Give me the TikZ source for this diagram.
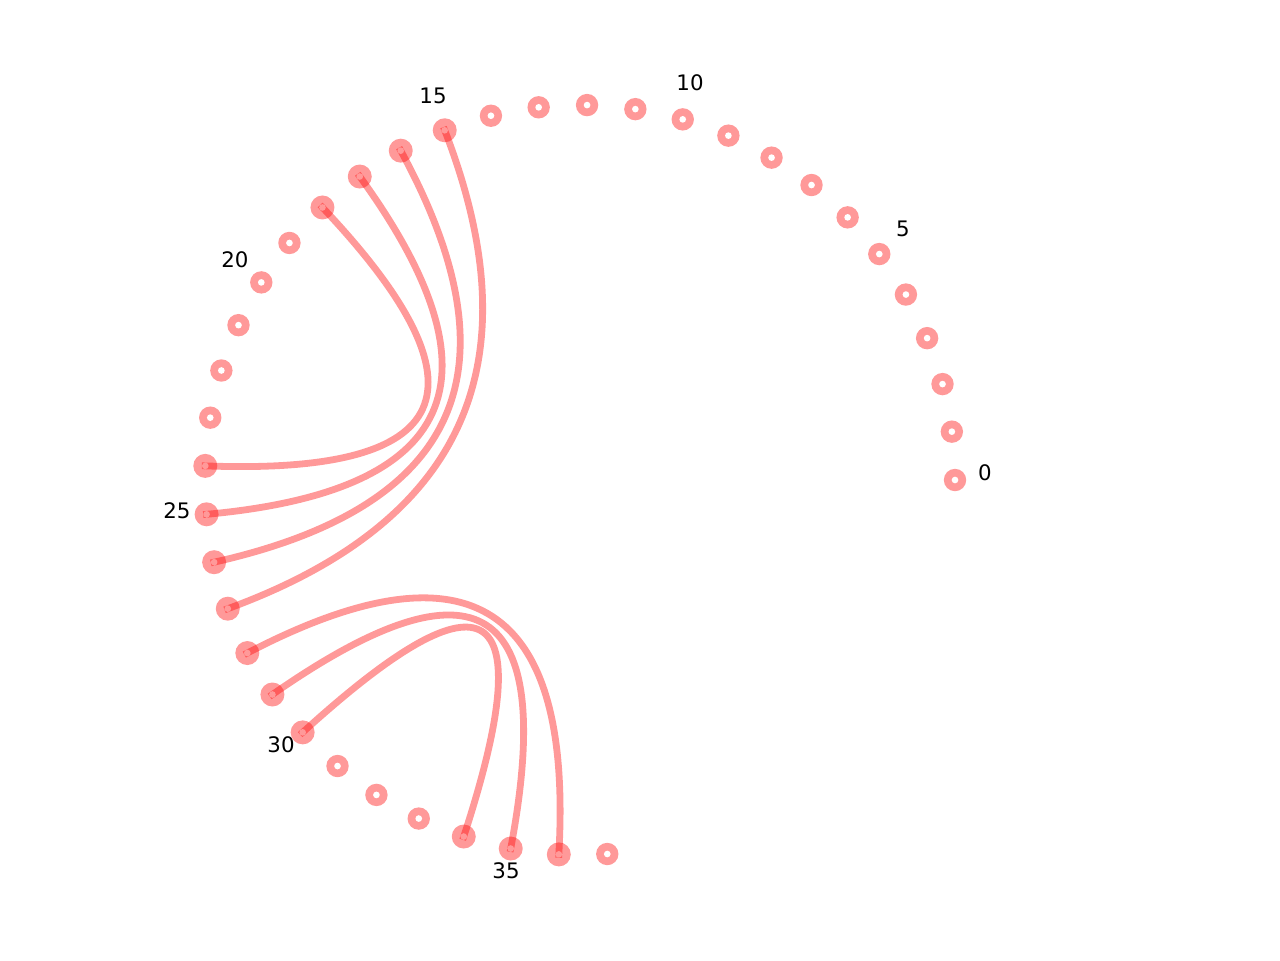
\documentclass[tikz,border=0pt]{standalone}
\usepackage{fontspec}
\setmainfont{DejaVu Sans}
\usetikzlibrary{calc}
\begin{document}
\begin{tikzpicture}[x=0.75pt,y=-0.75pt,
  vtx/.style={circle, fill=red, fill opacity=0.4, draw=none, inner sep=0pt, minimum size=16.8pt},
  hub/.style={vtx, minimum size=18pt},
  edge/.style={draw=red, draw opacity=0.4, line width=5.1pt, line cap=rect},
  lbl/.style={font=\fontsize{16}{19}\selectfont, text=black, inner sep=0pt}]
\useasboundingbox (0,0) rectangle (1280,960);
\coordinate (c) at (580,480);
\foreach \i in {0,...,14,19,20,21,22,23,31,32,33,37}{
  \node[vtx] (n\i) at ({580+375*cos(7.41*\i)},{480-375*sin(7.41*\i)}) {};
  \fill[white] (n\i.center) circle (2.5pt);
}
\foreach \i in {15,16,17,18,24,25,26,27,28,29,30,34,35,36}{
  \node[hub] (n\i) at ({580+375*cos(7.41*\i)},{480-375*sin(7.41*\i)}) {};
  \fill[white] (n\i.center) circle (2.5pt);
}
\foreach \p/\q in {15/27,16/26,17/25,18/24,28/36,29/35,30/34}{
  \draw[edge] (n\p.center) .. controls ($(n\p.center)!0.67!(c)$) and ($(n\q.center)!0.67!(c)$) .. (n\q.center);
}
\node[lbl] (l0) at (985,473) {0};
\node[lbl] (l5) at (903,229) {5};
\node[lbl] (l10) at (690,83) {10};
\node[lbl] (l15) at (433,96) {15};
\node[lbl] (l20) at (235,260) {20};
\node[lbl] (l25) at (177,511) {25};
\node[lbl] (l30) at (281,745) {30};
\node[lbl] (l35) at (506,871) {35};
\end{tikzpicture}
\end{document}
